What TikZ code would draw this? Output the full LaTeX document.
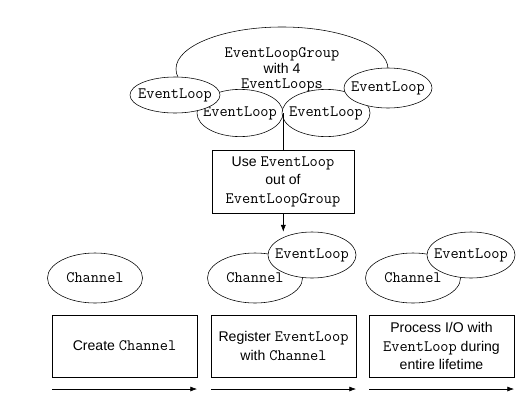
\documentclass[tikz,border=0pt]{standalone}
\usepackage{fontspec}
\setmainfont{Liberation Sans}
\usetikzlibrary{arrows.meta,positioning,shapes.geometric}
\newcommand{\code}[1]{{\ttfamily\fontsize{11.3}{12}\selectfont #1}}

\begin{document}
\begin{tikzpicture}[
            x=0.025cm, y=-0.025cm,
            >=Latex,
            loop/.style={ellipse, draw=black, fill=white, inner xsep=-20pt, inner ysep=-8pt, font=\ttfamily\fontsize{11.3}{12}\selectfont},
            group/.style={ellipse, draw=black, fill=white, inner sep=0pt, minimum width=5.3cm, minimum height=2.1cm},
            stepbox/.style={rectangle, draw=black, fill=white, align=center, font=\fontsize{10}{13.2}\selectfont, minimum width=3.6cm, minimum height=1.55cm},
            arrow/.style={->, thin}
        ]
        \useasboundingbox (0,0) rectangle (532,402);

        % EventLoopGroup and its loops
        \node[group] (grp) at (282,69) {};
        \node[font=\fontsize{10}{11.2}\selectfont, align=center] (grptxt) at (282,70) {\code{EventLoopGroup}\\with 4\\\code{EventLoops}};
        \node[loop, minimum width=2.15cm, minimum height=1.18cm] (ml) at (240,113) {EventLoop};
        \node[loop, minimum width=2.2cm, minimum height=1.18cm] (mr) at (326,113) {EventLoop};
        \node[loop, minimum width=2.25cm, minimum height=0.9cm] (ll) at (175,95) {EventLoop};
        \node[loop, minimum width=2.2cm, minimum height=1.0cm] (rl) at (388,88) {EventLoop};

        \node[stepbox, minimum width=3.55cm, minimum height=1.575cm] (use) at (283,181.5) {Use \code{EventLoop}\\out of\\\code{EventLoopGroup}};

        % channels
        \node[loop, minimum width=2.375cm, minimum height=1.25cm] (ch1) at (95,278) {Channel};
        \node[loop, minimum width=2.375cm, minimum height=1.25cm] (ch2) at (255,278) {Channel};
        \node[loop, minimum width=2.2cm, minimum height=1.15cm] (el2) at (312,255) {EventLoop};
        \node[loop, minimum width=2.375cm, minimum height=1.25cm] (ch3) at (413,278) {Channel};
        \node[loop, minimum width=2.2cm, minimum height=1.15cm] (el3) at (471,255) {EventLoop};

        % steps
        \node[stepbox, minimum width=3.625cm] (s1) at (124.5,346) {Create \code{Channel}};
        \node[stepbox, minimum width=3.625cm] (s2) at (283.5,346) {Register \code{EventLoop}\\with \code{Channel}};
        \node[stepbox, minimum width=3.625cm] (s3) at (441.5,346) {Process I/O with\\\code{EventLoop} during\\entire lifetime};

        \coordinate (a1) at (52,389);  \coordinate (b1) at (197,389);
        \coordinate (a2) at (211,389); \coordinate (b2) at (356,389);
        \coordinate (a3) at (369,389); \coordinate (b3) at (514,389);

        \draw (ml.east) -- (use.north -| ml.east);
        \draw[arrow] (use.south -| ml.east) -- (el2.north -| ml.east);
        \draw[arrow] (a1) -- (b1);
        \draw[arrow] (a2) -- (b2);
        \draw[arrow] (a3) -- (b3);
    \end{tikzpicture}
\end{document}
